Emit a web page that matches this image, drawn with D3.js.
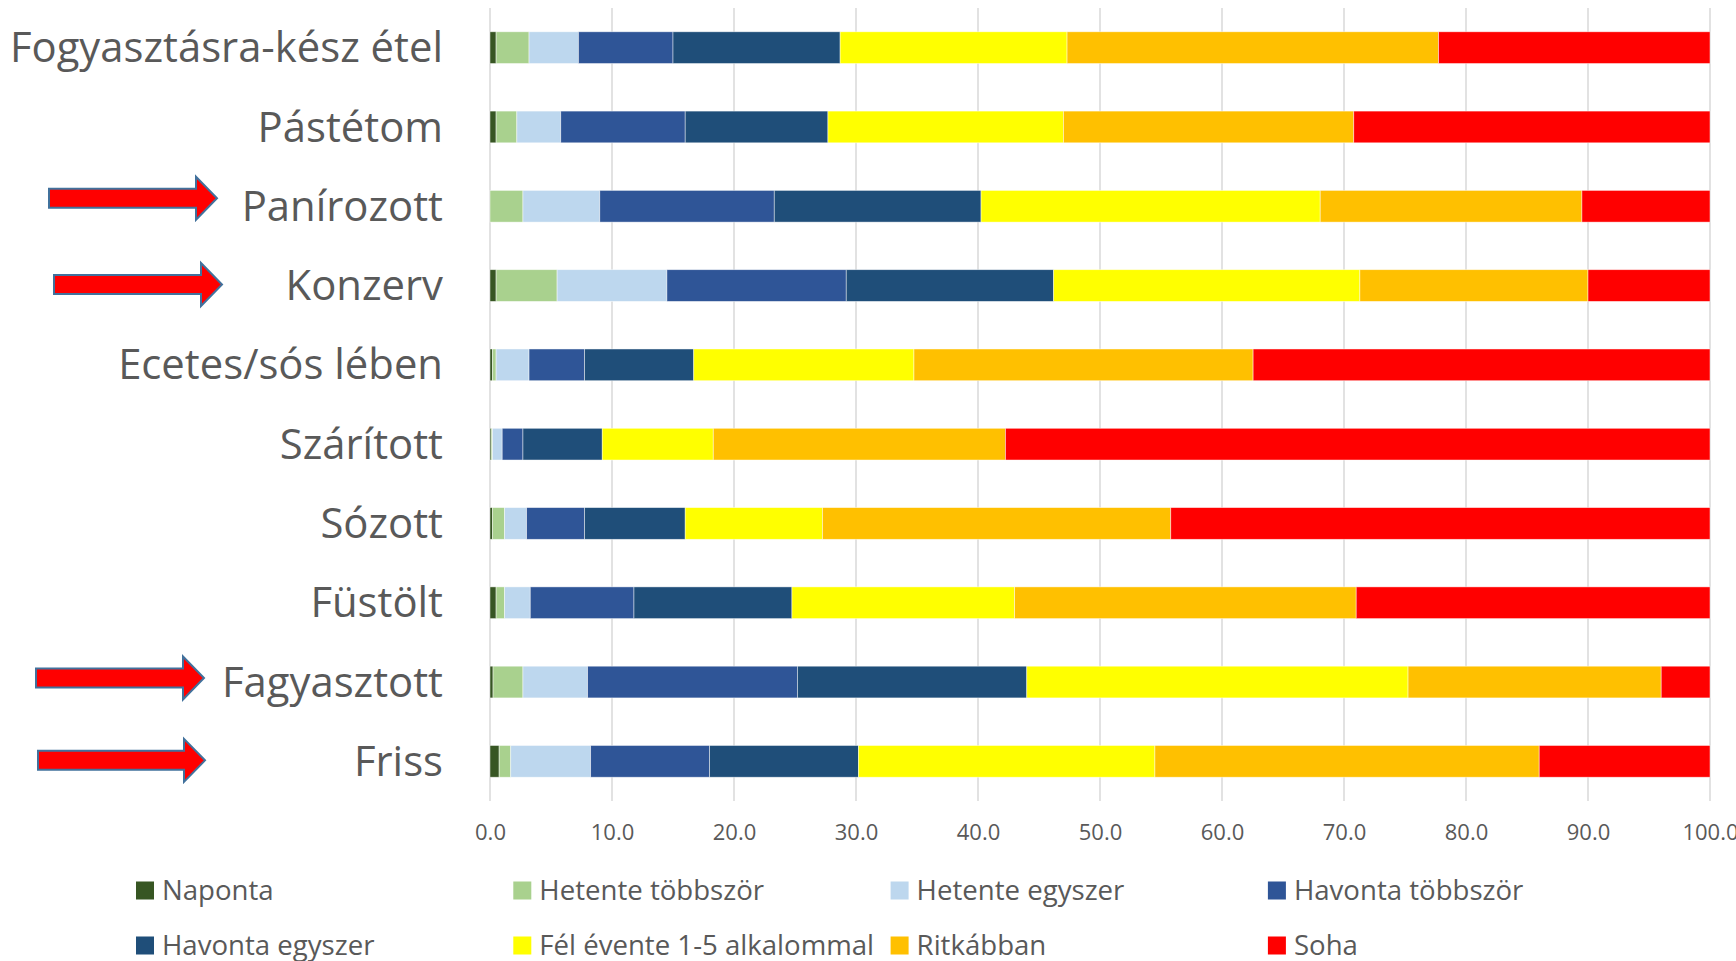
<!DOCTYPE html>
<html>
<head>
<meta charset="utf-8">
<script src="https://cdn.jsdelivr.net/npm/d3@7"></script>
<style>
  body { margin: 0; background: #fff; }
  svg text { font-family: "Open Sans", "Noto Sans", sans-serif; fill: #595959; }
</style>
</head>
<body>
<div id="chart"></div>
<script>
// categories top to bottom
const categories = ["Fogyasztásra-kész étel", "Pástétom", "Panírozott", "Konzerv", "Ecetes/sós lében",
  "Szárított", "Sózott", "Füstölt", "Fagyasztott", "Friss"];

const seriesNames = ["Naponta", "Hetente többször", "Hetente egyszer", "Havonta többször",
  "Havonta egyszer", "Fél évente 1-5 alkalommal", "Ritkábban", "Soha"];
const seriesColors = ["#375623", "#A9D18E", "#BDD7EE", "#2F5597", "#1F4E79", "#FFFF00", "#FFC000", "#FF0000"];

// percentages per category (same order as categories)
const naponta      = [0.5, 0.5, 0.0, 0.5, 0.2, 0.1, 0.2, 0.5, 0.25, 0.75];
const hetenteTobb  = [2.7, 1.7, 2.7, 5.0, 0.3, 0.1, 1.0, 0.7, 2.45, 0.95];
const hetenteEgy   = [4.05, 3.6, 6.3, 9.0, 2.7, 0.8, 1.8, 2.1, 5.3, 6.55];
const havontaTobb  = [7.75, 10.2, 14.3, 14.7, 4.55, 1.7, 4.75, 8.5, 17.2, 9.75];
const havontaEgy   = [13.7, 11.7, 16.95, 17.0, 8.95, 6.5, 8.25, 12.95, 18.8, 12.2];
const felEvente    = [18.6, 19.3, 27.8, 25.1, 18.05, 9.1, 11.25, 18.25, 31.25, 24.3];
const ritkabban    = [30.45, 23.8, 21.45, 18.7, 27.8, 23.95, 28.55, 28.0, 20.75, 31.5];
const soha         = [22.25, 29.2, 10.5, 10.0, 37.45, 57.75, 44.2, 29.0, 4.0, 14.0];

const xTicks = [0, 10, 20, 30, 40, 50, 60, 70, 80, 90, 100];

// highlighted categories (red arrows)
const arrowed = ["Panírozott", "Konzerv", "Fagyasztott", "Friss"];

const width = 1736, height = 961;
const seriesValues = [naponta, hetenteTobb, hetenteEgy, havontaTobb, havontaEgy, felEvente, ritkabban, soha];

// build table rows for d3.stack
const table = categories.map((c, i) => {
  const row = { category: c };
  seriesNames.forEach((s, j) => { row[s] = seriesValues[j][i]; });
  return row;
});

const svg = d3.select("#chart").append("svg")
  .attr("width", width)
  .attr("height", height);

const x = d3.scaleLinear().domain([0, 100]).range([490, 1710]);
const y = d3.scaleBand().domain(categories).range([8, 801]).paddingInner(0.6).paddingOuter(0.3);
const color = d3.scaleOrdinal().domain(seriesNames).range(seriesColors);

// gridlines
svg.append("g")
  .selectAll("line")
  .data(xTicks)
  .join("line")
  .attr("x1", d => x(d)).attr("x2", d => x(d))
  .attr("y1", 8).attr("y2", 801)
  .attr("stroke", "#D9D9D9")
  .attr("stroke-width", 1.5);

// stacked bars
const stacked = d3.stack().keys(seriesNames)(table);

svg.append("g")
  .selectAll("g")
  .data(stacked)
  .join("g")
  .attr("fill", d => color(d.key))
  .selectAll("rect")
  .data(d => d)
  .join("rect")
  .attr("x", d => x(d[0]))
  .attr("y", d => y(d.data.category))
  .attr("width", d => x(d[1]) - x(d[0]))
  .attr("height", y.bandwidth())
  .attr("stroke", "#ffffff")
  .attr("stroke-opacity", 0.6)
  .attr("stroke-width", 0.75);

// x axis labels
const xAxis = svg.append("g")
  .attr("transform", "translate(0,821)")
  .call(d3.axisBottom(x).tickValues(xTicks).tickFormat(d3.format(".1f")).tickSize(0));
xAxis.select(".domain").remove();
xAxis.selectAll("text")
  .attr("dy", "0.71em")
  .style("font-size", "22px")
  .style("font-family", "'Open Sans', sans-serif")
  .attr("fill", "#595959");

// category labels
svg.append("g")
  .selectAll("text")
  .data(categories)
  .join("text")
  .attr("x", 443)
  .attr("y", d => y(d) + y.bandwidth() / 2)
  .attr("dy", "0.35em")
  .attr("text-anchor", "end")
  .style("font-size", "41.8px")
  .text(d => d);

// red arrows pointing at the highlighted categories
const arrowGeom = {
  "Panírozott":  { x0: 49, x1: 217, dy: -8 },
  "Konzerv":     { x0: 54, x1: 222, dy: -1 },
  "Fagyasztott": { x0: 36, x1: 204, dy: -4 },
  "Friss":       { x0: 38, x1: 205, dy: -1 }
};
const shaftH = 19, headH = 43, headL = 21;
svg.append("g")
  .selectAll("path")
  .data(arrowed)
  .join("path")
  .attr("d", c => {
    const g = arrowGeom[c];
    const cy = y(c) + y.bandwidth() / 2 + g.dy;
    const hx = g.x1 - headL;
    return `M${g.x0},${cy - shaftH / 2} L${hx},${cy - shaftH / 2} L${hx},${cy - headH / 2}
            L${g.x1},${cy} L${hx},${cy + headH / 2} L${hx},${cy + shaftH / 2} L${g.x0},${cy + shaftH / 2} Z`;
  })
  .attr("fill", "#FF0000")
  .attr("stroke", "#41719C")
  .attr("stroke-width", 2);

// legend, 4 columns x 2 rows
const legend = svg.append("g")
  .selectAll("g")
  .data(seriesNames)
  .join("g")
  .attr("transform", (d, i) => `translate(${136 + (i % 4) * 377.3},${890.5 + Math.floor(i / 4) * 55})`);

legend.append("rect")
  .attr("x", 0).attr("y", -9)
  .attr("width", 18).attr("height", 18)
  .attr("fill", d => color(d));

legend.append("text")
  .attr("x", 26)
  .attr("dy", "0.35em")
  .style("font-size", "27.6px")
  .text(d => d);
</script>
</body>
</html>
